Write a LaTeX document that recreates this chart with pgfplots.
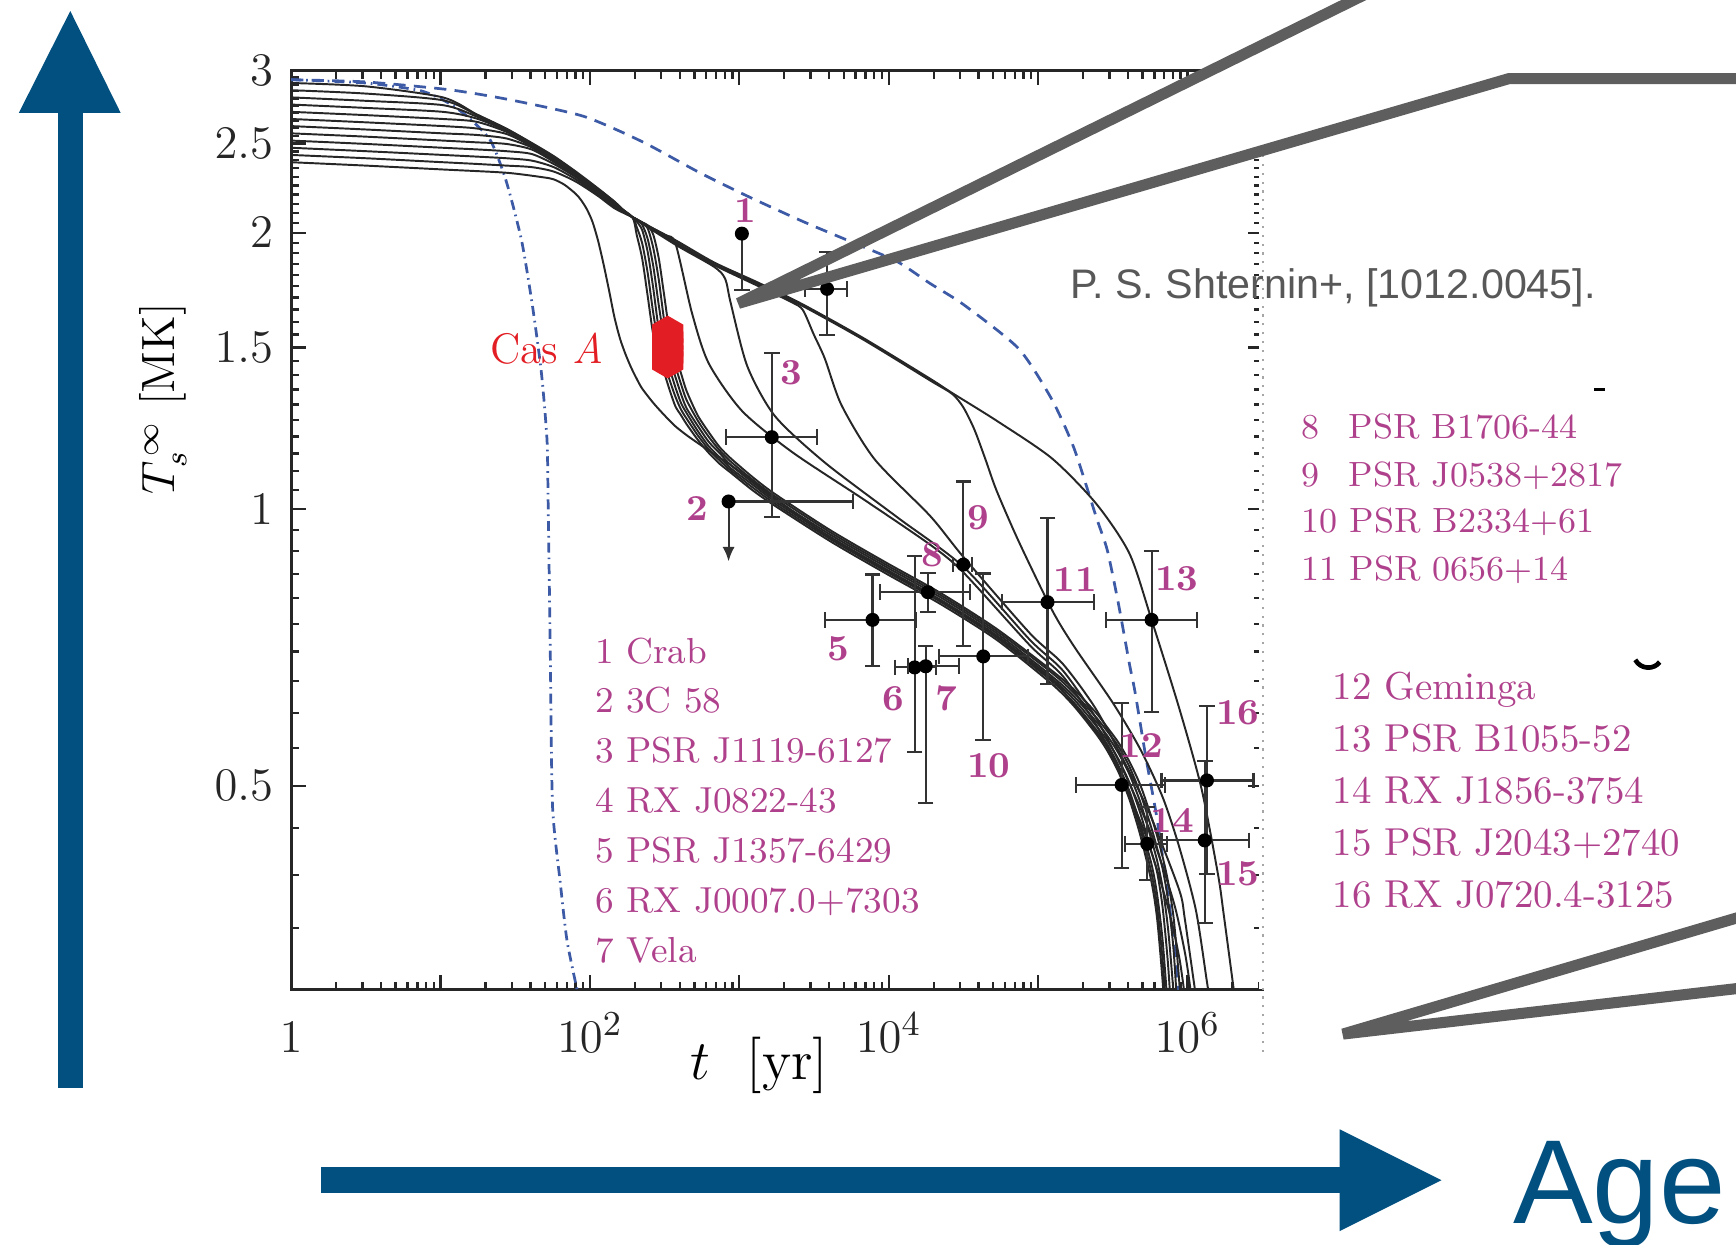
\documentclass[border=0pt]{standalone}
\usepackage{fontspec}
\newfontfamily\sansf{Liberation Sans}
\usepackage{pgfplots}
\pgfplotsset{compat=1.18}
\usetikzlibrary{arrows.meta}
\definecolor{arrowblue}{RGB}{2,80,128}
\definecolor{greyline}{RGB}{94,94,94}
\definecolor{textgray}{RGB}{88,88,88}
\definecolor{mag}{RGB}{175,65,140}
\definecolor{casred}{RGB}{226,30,36}
\definecolor{curveblue}{RGB}{60,90,165}
\pgfdeclareplotmark{hexa}{%
  \pgfpathmoveto{\pgfpointpolar{90}{\pgfplotmarksize}}%
  \pgfpathlineto{\pgfpointpolar{150}{\pgfplotmarksize}}%
  \pgfpathlineto{\pgfpointpolar{210}{\pgfplotmarksize}}%
  \pgfpathlineto{\pgfpointpolar{270}{\pgfplotmarksize}}%
  \pgfpathlineto{\pgfpointpolar{330}{\pgfplotmarksize}}%
  \pgfpathlineto{\pgfpointpolar{30}{\pgfplotmarksize}}%
  \pgfpathclose
  \pgfusepathqfillstroke}
\pgfdeclareplotmark{vcap}{\pgfpathmoveto{\pgfqpoint{0pt}{\pgfplotmarksize}}\pgfpathlineto{\pgfqpoint{0pt}{-\pgfplotmarksize}}\pgfusepathqstroke}
\pgfdeclareplotmark{hcap}{\pgfpathmoveto{\pgfqpoint{\pgfplotmarksize}{0pt}}\pgfpathlineto{\pgfqpoint{-\pgfplotmarksize}{0pt}}\pgfusepathqstroke}
\newcommand\legA{\fontsize{9.3}{11}\selectfont\addfontfeatures{FakeBold=0.4}}
\newcommand\legB{\fontsize{9}{11}\selectfont\addfontfeatures{FakeBold=0.4}}
\newcommand\legC{\fontsize{10}{12}\selectfont\addfontfeatures{FakeBold=0.4}}
\begin{document}
\begin{tikzpicture}[x=1cm,y=1cm]
% slide arrows
\fill[arrowblue] (0.52,1.41) rectangle (0.75,10.22);
\fill[arrowblue] (0.17,10.22) -- (1.09,10.22) -- (0.635,11.14) -- cycle;
\fill[arrowblue] (2.90,0.46) rectangle (12.10,0.70);
\fill[arrowblue] (12.10,1.04) -- (12.10,0.12) -- (13.02,0.58) -- cycle;
\node[anchor=base west, inner sep=0, text=arrowblue, font=\sansf\fontsize{30.7}{36}\selectfont] at (13.66,0.19) {Age};

\begin{axis}[
  at={(2.63cm,2.30cm)}, anchor=south west,
  scale only axis, width=8.77cm, height=8.30cm,
  xmode=log, ymode=log,
  xmin=1, xmax=3.1623e6, ymin=0.3, ymax=3,
  axis line style={line width=0.8pt, black!85},
  tick style={line width=0.6pt, black!85},
  major tick length=0.13cm, minor tick length=0.07cm,
  xtick={1,10,100,1000,10000,100000,1000000},
  xticklabels={$1$,,$10^2$,,$10^4$,,$10^6$},
  minor xtick={2,3,4,5,6,7,8,9,20,30,40,50,60,70,80,90,200,300,400,500,600,700,800,900,2000,3000,4000,5000,6000,7000,8000,9000,2e4,3e4,4e4,5e4,6e4,7e4,8e4,9e4,2e5,3e5,4e5,5e5,6e5,7e5,8e5,9e5,2e6,3e6},
  ytick={0.5,1,1.5,2,2.5,3},
  yticklabels={$0.5$,$1$,$1.5$,$2$,$2.5$,$3$},
  minor ytick={0.35,0.4,0.45,0.55,0.6,0.65,0.7,0.75,0.8,0.85,0.9,0.95,1.05,1.1,1.15,1.2,1.25,1.3,1.35,1.4,1.45,1.55,1.6,1.65,1.7,1.75,1.8,1.85,1.9,1.95,2.05,2.1,2.15,2.2,2.25,2.3,2.35,2.4,2.45,2.55,2.6,2.65,2.7,2.75,2.8,2.85,2.9,2.95},
  ticklabel style={font=\fontsize{12.5}{14}\selectfont, text=black!85},
  xticklabel style={anchor=base, yshift=-0.57cm},
  yticklabel style={xshift=-0.04cm},
  xlabel={$t$~~[yr]},
  xlabel style={at={(axis description cs:0.482,-0.0976)}, anchor=base, font=\fontsize{14.5}{17}\selectfont},
  ylabel={$T_{s}^{\,\infty}$ [MK]},
  ylabel style={at={(axis description cs:-0.1197,0.643)}, anchor=base, font=\fontsize{12}{14}\selectfont},
  cool/.style={black!85, line width=0.5pt, smooth, tension=0.45},
  errb/.style={only marks, mark=*, mark size=1.6pt, black,
    error bars/error mark=none,
    error bars/error bar style={line width=0.55pt, black!80}},
]
% blue dash-dot
\addplot[curveblue, line width=0.7pt, smooth, tension=0.4, dash pattern=on 0.09cm off 0.045cm on 0.015cm off 0.045cm] coordinates {
(1,2.934)(3.139,2.910)(7.367,2.854)(11.29,2.768)(15.35,2.670)(21.60,2.519)(27.43,2.279)(34.83,1.963)(41.30,1.6616)(47.35,1.4065)(51.58,1.191)(52.47,1.0225)(53.37,0.8468)(54.28,0.6976)(56.17,0.4754)(63.29,0.3926)(70.13,0.3399)(81.76,0.3008)(84.60,0.2950)};
% blue dashed
\addplot[curveblue, line width=0.7pt, smooth, tension=0.4, dash pattern=on 0.11cm off 0.075cm] coordinates {
(1,2.934)(3.139,2.918)(11.29,2.862)(28.86,2.791)(90.58,2.677)(223.8,2.512)(543.6,2.324)(1172,2.186)(2660,2.057)(5734,1.952)(11350,1.861)(18935,1.761)(31590,1.671)(74180,1.4954)(123800,1.3163)(174100,1.165)(245000,0.9808)(290630,0.9025)(344600,0.7902)(408900,0.6785)(445300,0.6330)(528300,0.5357)(626600,0.4598)(743000,0.3787)(809300,0.3389)(881300,0.2950)};
% cooling curves
\addplot[cool] coordinates {(1,2.910)(3.139,2.886)(10.36,2.807)(17.30,2.692)(27.43,2.597)(40.61,2.505)(57.14,2.423)(80.38,2.331)(113.1,2.235)(146.1,2.162)(191.9,2.080)(373.6,1.963)(678.7,1.856)(1344,1.764)(2660,1.671)(6800,1.535)(18935,1.387)(26640,1.338)(52724,1.2486)(123800,1.1360)(245000,1.014)(408900,0.8950)(575300,0.7580)(881300,0.6072)(1.24e6,0.4970)(1.6021e6,0.4003)(1.7448e6,0.3633)(2.0696e6,0.2950)};
\addplot[cool] coordinates {(1,2.858)(3.139,2.834)(10.36,2.787)(17.30,2.689)(27.43,2.594)(40.61,2.502)(57.14,2.420)(80.38,2.327)(113.1,2.232)(146.1,2.159)(191.9,2.080)(373.6,1.954)(678.7,1.848)(1344,1.757)(2660,1.664)(6800,1.529)(18935,1.381)(26640,1.335)(31590,1.291)(37480,1.221)(44450,1.133)(52724,1.048)(74180,0.9227)(123800,0.7773)(174100,0.7093)(316600,0.6157)(485000,0.5476)(682400,0.4860)(881300,0.4289)(1.1384e6,0.3663)(1.3506e6,0.3059)(1.4709e6,0.2792)};
\addplot[cool] coordinates {(1,2.807)(3.139,2.783)(10.36,2.753)(17.30,2.677)(27.43,2.590)(40.61,2.498)(57.14,2.416)(80.38,2.324)(113.1,2.229)(146.1,2.156)(191.9,2.080)(373.6,1.947)(678.7,1.844)(1344,1.749)(2243,1.680)(2660,1.648)(3154,1.549)(3741,1.458)(4833,1.298)(8065,1.133)(18935,0.9835)(31590,0.8876)(87990,0.7332)(146800,0.6785)(245000,0.6055)(408900,0.5181)(575300,0.4611)(881300,0.3851)(960000,0.3583)(1.1384e6,0.2950)};
\addplot[cool] coordinates {(1,2.757)(3.139,2.734)(10.36,2.707)(17.30,2.663)(27.43,2.583)(40.61,2.495)(57.14,2.413)(80.38,2.321)(113.1,2.226)(146.1,2.153)(191.9,2.080)(373.6,1.941)(678.7,1.836)(804.9,1.781)(876.9,1.675)(1133,1.430)(1735,1.2625)(3741,1.124)(11350,0.9808)(31590,0.8658)(87990,0.7212)(146800,0.6674)(245000,0.5922)(375400,0.5181)(575300,0.4423)(809300,0.3735)(960000,0.3297)(1.0455e6,0.3008)(1.1384e6,0.2677)};
\addplot[cool] coordinates {(1,2.707)(3.139,2.685)(10.36,2.659)(17.30,2.641)(27.43,2.576)(40.61,2.491)(57.14,2.410)(80.38,2.318)(113.1,2.223)(146.1,2.150)(191.9,2.080)(314.9,1.990)(373.6,1.947)(482.6,1.634)(623.4,1.442)(1040,1.280)(2243,1.155)(6800,1.025)(18935,0.9151)(31590,0.8538)(87990,0.7113)(146800,0.6581)(245000,0.5825)(344600,0.5195)(528300,0.4410)(743000,0.3683)(881300,0.3252)(960000,0.2950)};
\addplot[cool] coordinates {(1,2.659)(3.139,2.637)(10.36,2.612)(17.30,2.597)(27.43,2.562)(40.61,2.484)(57.14,2.404)(80.38,2.315)(113.1,2.220)(146.1,2.147)(191.9,2.080)(205.5,1.990)(223.8,1.874)(243.8,1.704)(265.5,1.548)(289.2,1.466)(314.9,1.4065)(343.0,1.3456)(373.6,1.294)(406.8,1.2659)(443.1,1.2381)(525.5,1.1910)(623.4,1.152)(739.3,1.1205)(876.9,1.0959)(1234,1.048)(1735,1.0084)(4075,0.9227)(9566,0.8515)(22460,0.7879)(52724,0.7212)(123800,0.6454)(174100,0.6106)(245000,0.5694)(290630,0.5461)(344600,0.5181)(408900,0.4833)(485000,0.4410)(575300,0.3926)(626600,0.3583)(682400,0.3059)(743000,0.2498)};
\addplot[cool] coordinates {(1,2.612)(3.139,2.590)(10.36,2.565)(17.30,2.555)(27.43,2.533)(40.61,2.477)(57.14,2.396)(80.38,2.311)(113.1,2.217)(146.1,2.144)(191.9,2.080)(205.5,2.029)(223.8,1.947)(243.8,1.806)(265.5,1.634)(289.2,1.510)(314.9,1.442)(343.0,1.3797)(373.6,1.3255)(406.8,1.284)(443.1,1.2554)(525.5,1.2043)(623.4,1.1619)(739.3,1.1299)(876.9,1.102)(1234,1.0556)(1735,1.014)(4075,0.9278)(9566,0.8562)(22460,0.7924)(52724,0.7251)(123800,0.6497)(174100,0.6157)(245000,0.5757)(290630,0.5548)(344600,0.5264)(408900,0.4935)(485000,0.4534)(575300,0.4105)(626600,0.3809)(682400,0.3389)(743000,0.2830)};
\addplot[cool] coordinates {(1,2.565)(3.139,2.544)(10.36,2.519)(17.30,2.508)(27.43,2.498)(40.61,2.464)(57.14,2.389)(80.38,2.305)(113.1,2.211)(146.1,2.141)(191.9,2.080)(205.5,2.057)(223.8,2.0125)(243.8,1.904)(265.5,1.7386)(289.2,1.568)(314.9,1.4789)(343.0,1.4187)(373.6,1.357)(406.8,1.3054)(443.1,1.273)(525.5,1.2177)(623.4,1.1714)(739.3,1.139)(876.9,1.1081)(1234,1.0629)(1735,1.0197)(4075,0.9330)(9566,0.8609)(22460,0.7965)(52724,0.7291)(123800,0.6544)(174100,0.6208)(245000,0.5813)(290630,0.5599)(344600,0.5348)(408900,0.5039)(485000,0.4662)(575300,0.4230)(626600,0.4026)(682400,0.3683)(743000,0.3180)(809300,0.2568)};
\addplot[cool] coordinates {(1,2.519)(3.139,2.498)(10.36,2.474)(17.30,2.464)(27.43,2.453)(40.61,2.436)(57.14,2.376)(80.38,2.298)(113.1,2.204)(146.1,2.138)(191.9,2.080)(205.5,2.0687)(223.8,2.0402)(243.8,1.968)(265.5,1.8389)(289.2,1.6662)(314.9,1.529)(343.0,1.4545)(373.6,1.3929)(406.8,1.335)(443.1,1.2887)(525.5,1.2334)(623.4,1.1845)(739.3,1.151)(876.9,1.117)(1234,1.0689)(1735,1.025)(4075,0.9382)(9566,0.8658)(22460,0.8012)(52724,0.7332)(123800,0.6581)(174100,0.6258)(245000,0.5874)(290630,0.5670)(344600,0.5431)(408900,0.5146)(485000,0.4793)(575300,0.4362)(626600,0.4145)(682400,0.3872)(743000,0.3485)(809300,0.2950)(881300,0.2363)};
\addplot[cool] coordinates {(1,2.474)(3.139,2.453)(10.36,2.430)(17.30,2.420)(27.43,2.410)(40.61,2.396)(57.14,2.357)(80.38,2.286)(113.1,2.199)(146.1,2.132)(191.9,2.080)(205.5,2.068)(223.8,2.052)(243.8,2.0213)(265.5,1.9245)(289.2,1.7760)(314.9,1.5999)(343.0,1.4912)(373.6,1.430)(406.8,1.3690)(443.1,1.3152)(525.5,1.2498)(623.4,1.1993)(739.3,1.1587)(876.9,1.1268)(1234,1.0760)(1735,1.0327)(4075,0.9435)(9566,0.8705)(22460,0.8057)(52724,0.7373)(123800,0.6636)(174100,0.6310)(245000,0.5936)(290630,0.5734)(344600,0.5522)(408900,0.5246)(485000,0.4901)(575300,0.4493)(626600,0.4278)(682400,0.4060)(743000,0.3746)(809300,0.3297)(881300,0.2640)};
\addplot[cool] coordinates {(1,2.430)(3.139,2.410)(10.36,2.386)(17.30,2.376)(27.43,2.366)(40.61,2.357)(57.14,2.331)(80.38,2.273)(113.1,2.193)(146.1,2.126)(191.9,2.080)(205.5,2.068)(223.8,2.052)(243.8,2.0368)(265.5,1.990)(289.2,1.874)(314.9,1.704)(343.0,1.548)(373.6,1.466)(406.8,1.4065)(443.1,1.3456)(525.5,1.2659)(623.4,1.2134)(739.3,1.1682)(876.9,1.1360)(1234,1.0832)(1735,1.0388)(4075,0.9487)(9566,0.8753)(22460,0.8100)(52724,0.7413)(123800,0.6674)(174100,0.6365)(245000,0.6003)(290630,0.5789)(344600,0.5576)(408900,0.5313)(485000,0.5004)(575300,0.4618)(626600,0.4410)(682400,0.4184)(743000,0.3926)(809300,0.3583)(881300,0.3059)(960000,0.2498)};
\addplot[cool] coordinates {(1,2.386)(3.139,2.366)(10.36,2.343)(27.43,2.324)(48.17,2.298)(57.14,2.286)(67.76,2.2543)(80.38,2.204)(87.52,2.1684)(95.33,2.1208)(103.8,2.057)(113.1,1.963)(123.1,1.851)(134.1,1.7323)(146.1,1.6163)(159.1,1.5330)(173.3,1.474)(188.7,1.4265)(205.5,1.387)(223.8,1.3530)(265.5,1.3054)(314.9,1.2659)(373.6,1.231)(443.1,1.2043)(525.5,1.181)(623.4,1.1587)(876.9,1.117)(1234,1.072)(1735,1.028)(4075,0.9304)(9566,0.8586)(22460,0.7943)(52724,0.7272)(123800,0.6526)(174100,0.6131)(245000,0.5726)(290630,0.5507)(344600,0.5225)(408900,0.4887)(485000,0.4480)(575300,0.4014)(626600,0.3694)(682400,0.3225)(743000,0.2640)};
% observed sources: points with error bars
\addplot[errb, error bars/y dir=minus, error bars/y explicit]
  coordinates {(1040,1.9953) -= (0,0.263)};
\addplot[errb, error bars/x dir=plus, error bars/x explicit]
  coordinates {(847.5,1.0197) += (4886.5,0)};
\draw[black!80, line width=0.55pt, -{Latex[length=0.13cm,width=0.11cm]}] (axis cs:847.5,1.0197) -- (axis cs:847.5,0.8777);
\addplot[errb, error bars/x dir=both, error bars/x explicit, error bars/y dir=both, error bars/y explicit]
  table[x=t, y=T, x error plus=xp, x error minus=xm, y error plus=yp, y error minus=ym, row sep=\\] {
  t T xp xm yp ym \\
  1648.8 1.198 1671 829.7 0.281 0.217 \\
  3870 1.7372 1395 1118 0.167 0.188 \\
  7795 0.7580 7372 4054 0.0912 0.0832 \\
  14912 0.6729 5715 3947 0.2172 0.1283 \\
  17684 0.6748 11828 4224 0.0345 0.1955 \\
  18299 0.8124 16696 9513 0.04 0.04 \\
  31590 0.8705 4634 4494 0.2015 0.1612 \\
  42962 0.6917 42076 21251 0.1598 0.1302 \\
  115610 0.7924 121180 58185 0.1857 0.147 \\
  362750 0.5012 343250 182490 0.1145 0.0942 \\
  575300 0.7580 582600 289540 0.142 0.1558 \\
  537390 0.4325 193090 155450 0.0415 0.0377 \\
  1305000 0.4362 1278900 634170 0.0965 0.0819 \\
  1350600 0.5069 1415300 679770 0.1037 0.1055 \\
  };
% end caps of the horizontal error bars
\addplot[only marks, mark=vcap, mark size=2pt, black!80, mark options={line width=0.55pt}] coordinates {
(5734,1.0197)(819.1,1.198)(3320,1.198)(2752,1.7372)(5265,1.7372)(3741,0.7580)(15167,0.7580)(10965,0.6729)(20627,0.6729)(13460,0.6748)(29512,0.6748)(8786,0.8124)(34995,0.8124)(27096,0.8705)(36224,0.8705)(21711,0.6917)(85038,0.6917)(57425,0.7924)(236790,0.7924)(180260,0.5012)(706000,0.5012)(285760,0.7580)(1157900,0.7580)(381940,0.4325)(730480,0.4325)(670830,0.4362)(2583900,0.4362)(670830,0.5069)(2765900,0.5069)};
% end caps of the vertical error bars
\addplot[only marks, mark=hcap, mark size=2pt, black!80, mark options={line width=0.55pt}] coordinates {
(1040,1.7323)(1648.8,1.479)(1648.8,0.981)(3870,1.9042)(3870,1.5492)(7795,0.8492)(7795,0.6748)(14912,0.8901)(14912,0.5446)(17684,0.7093)(17684,0.4793)(18299,0.8524)(18299,0.7724)(31590,1.072)(31590,0.7093)(42962,0.8515)(42962,0.5615)(115610,0.9781)(115610,0.6454)(362750,0.6157)(362750,0.4070)(575300,0.9000)(575300,0.6022)(537390,0.4740)(537390,0.3948)(1305000,0.5327)(1305000,0.3543)(1350600,0.6106)(1350600,0.4014)};
% Cas A
\addplot[only marks, mark=hexa, mark size=4.4pt, color=casred, mark options={fill=casred, draw=casred}] coordinates {(331.4,1.553)(331.4,1.526)(331.4,1.500)(331.4,1.474)(331.4,1.452)};
\end{axis}

% hide cropped corner of the original figure
\fill[white] (9.42,9.84) -- (11.26,10.74) -- (11.70,10.74) -- (11.70,9.84) -- cycle;
\draw[white, line width=1.6pt] (11.40,2.31) -- (11.40,10.62);
\draw[gray!70, line width=0.4pt, dash pattern=on 0.02cm off 0.06cm] (11.41,1.74) -- (11.41,9.84);

% labels inside the plot
\begin{scope}[every node/.style={inner sep=0, text=mag}]
\node[anchor=base west, font=\legA] at (5.37,5.25) {1 Crab};
\node[anchor=base west, font=\legA] at (5.37,4.80) {2 3C 58};
\node[anchor=base west, font=\legA] at (5.37,4.35) {3 PSR J1119-6127};
\node[anchor=base west, font=\legA] at (5.37,3.90) {4 RX J0822-43};
\node[anchor=base west, font=\legA] at (5.37,3.45) {5 PSR J1357-6429};
\node[anchor=base west, font=\legA] at (5.37,3.00) {6 RX J0007.0+7303};
\node[anchor=base west, font=\legA] at (5.37,2.55) {7 Vela};
\node[anchor=base west, font=\legB] at (11.75,7.28) {\makebox[1em][l]{8} PSR B1706-44};
\node[anchor=base west, font=\legB] at (11.75,6.85) {\makebox[1em][l]{9} PSR J0538+2817};
\node[anchor=base west, font=\legB] at (11.75,6.43) {10 PSR B2334+61};
\node[anchor=base west, font=\legB] at (11.75,6.00) {11 PSR 0656+14};
\node[anchor=base west, font=\legC] at (12.03,4.92) {12 Geminga};
\node[anchor=base west, font=\legC] at (12.03,4.45) {13 PSR B1055-52};
\node[anchor=base west, font=\legC] at (12.03,3.98) {14 RX J1856-3754};
\node[anchor=base west, font=\legC] at (12.03,3.51) {15 PSR J2043+2740};
\node[anchor=base west, font=\legC] at (12.03,3.04) {16 RX J0720.4-3125};
\end{scope}
\begin{scope}[every node/.style={inner sep=0, text=mag, font=\bfseries\fontsize{9.4}{11}\selectfont}]
\node at (6.73,9.34) {1};
\node at (6.30,6.65) {2};
\node at (7.15,7.87) {3};
\node at (7.57,5.38) {5};
\node at (8.07,4.93) {6};
\node at (8.55,4.93) {7};
\node at (8.42,6.23) {8};
\node at (8.84,6.56) {9};
\node at (8.93,4.32) {10};
\node at (9.71,6.01) {11};
\node at (10.31,4.51) {12};
\node at (10.63,6.01) {13};
\node at (10.59,3.83) {14};
\node at (11.18,3.35) {15};
\node at (11.18,4.80) {16};
\end{scope}
\node[anchor=base, inner sep=0, text=casred, font=\fontsize{11}{13}\selectfont\addfontfeatures{FakeBold=0.4}] at (4.94,7.96) {Cas \textit{A}};

% callout lines and reference
\draw[greyline, line width=0.1cm] (12.35,11.30) -- (6.67,8.50) -- (13.63,10.53) -- (16.2,10.53);
\draw[greyline, line width=0.1cm] (16.2,3.10) -- (12.13,1.90) -- (16.2,2.37);
\node[anchor=base west, inner sep=0, text=textgray, font=\sansf\fontsize{10.6}{12}\selectfont] at (9.66,8.54) {P. S. Shternin+, [1012.0045].};
% stray marks of the slide
\draw[black, line width=0.9pt] (14.40,7.72) -- (14.50,7.72);
\draw[black, line width=1.2pt] (14.77,5.28) .. controls (14.82,5.19) and (14.94,5.19) .. (14.99,5.26);
\pgfresetboundingbox
\path[use as bounding box] (0,0) rectangle (15.68,11.24);
\end{tikzpicture}
\end{document}
